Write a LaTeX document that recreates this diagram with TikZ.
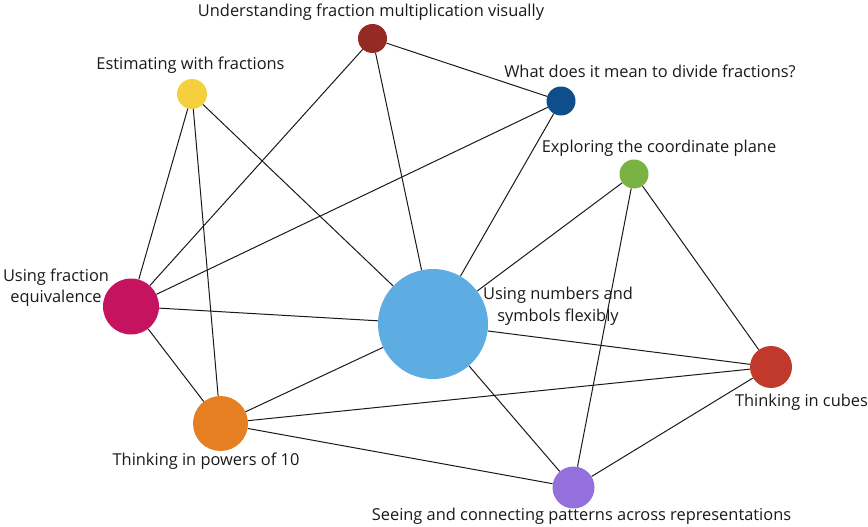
\documentclass[tikz,border=0pt]{standalone}
\usepackage{fontspec}
\setmainfont{Open Sans}
\definecolor{cMult}{HTML}{932A23}
\definecolor{cEst}{HTML}{F4D03F}
\definecolor{cDiv}{HTML}{0E4E8A}
\definecolor{cExp}{HTML}{7AB342}
\definecolor{cEqu}{HTML}{C6135F}
\definecolor{cBig}{HTML}{5DADE2}
\definecolor{cCub}{HTML}{C0392B}
\definecolor{cPow}{HTML}{E67E22}
\definecolor{cPat}{HTML}{9370DB}
\definecolor{cTxt}{HTML}{1A1A1A}
\tikzset{
  dot/.style={circle, inner sep=0pt, draw=none},
  lbl/.style={font=\fontsize{16.4}{21.5}\selectfont, text=cTxt, inner sep=0pt, align=center},
  edge/.style={draw=cTxt, line width=1pt}
}
\begin{document}
\begin{tikzpicture}[x=1pt,y=-1pt]
\useasboundingbox (0,0) rectangle (868,527);
% nodes
\node[dot, fill=cMult, minimum size=29pt] (mult) at (372.5,38.5) {};
\node[dot, fill=cEst, minimum size=30pt] (est) at (192,94) {};
\node[dot, fill=cDiv, minimum size=29pt] (div) at (561,101) {};
\node[dot, fill=cExp, minimum size=29pt] (exp) at (634,174) {};
\node[dot, fill=cEqu, minimum size=56pt] (equ) at (131,306.5) {};
\node[dot, fill=cBig, minimum size=110pt] (big) at (433,324) {};
\node[dot, fill=cCub, minimum size=42pt] (cub) at (771,367) {};
\node[dot, fill=cPow, minimum size=55pt] (pow) at (220.5,423.5) {};
\node[dot, fill=cPat, minimum size=42pt] (pat) at (573.5,487.5) {};
% labels
\node[lbl] (lmult) at (371,12) {Understanding fraction multiplication visually};
\node[lbl] (lest) at (190.5,65) {Estimating with fractions};
\node[lbl] (ldiv) at (650,71) {What does it mean to divide fractions?};
\node[lbl] (lexp) at (659,148) {Exploring the coordinate plane};
\node[lbl] (lequ) at (56,287.5) {Using fraction\\equivalence};
\node[lbl] (lbig) at (558,306) {Using numbers and\\symbols flexibly};
\node[lbl] (lcub) at (801.5,402.5) {Thinking in cubes};
\node[lbl] (lpow) at (206,461.5) {Thinking in powers of 10};
\node[lbl] (lpat) at (581.5,516) {Seeing and connecting patterns across representations};
% edges
\draw[edge] (mult) -- (div);
\draw[edge] (mult) -- (equ);
\draw[edge] (mult) -- (big);
\draw[edge] (est) -- (equ);
\draw[edge] (est) -- (pow);
\draw[edge] (est) -- (big);
\draw[edge] (div) -- (equ);
\draw[edge] (div) -- (big);
\draw[edge] (exp) -- (big);
\draw[edge] (exp) -- (cub);
\draw[edge] (exp) -- (pat);
\draw[edge] (equ) -- (big);
\draw[edge] (equ) -- (pow);
\draw[edge] (big) -- (cub);
\draw[edge] (big) -- (pow);
\draw[edge] (big) -- (pat);
\draw[edge] (pow) -- (cub);
\draw[edge] (pow) -- (pat);
\draw[edge] (cub) -- (pat);
\end{tikzpicture}
\end{document}
